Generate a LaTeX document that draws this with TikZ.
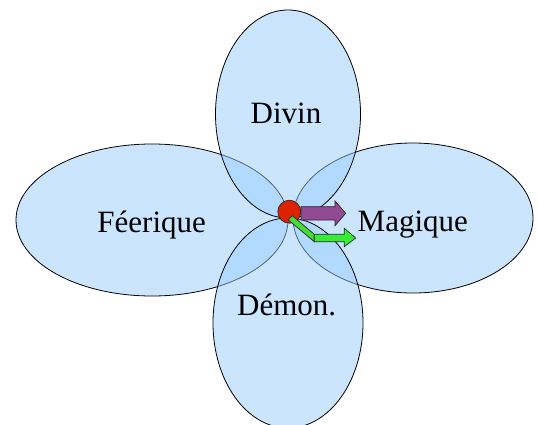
\documentclass[tikz,border=0pt]{standalone}
\usepackage{fontspec}
\setmainfont{Liberation Serif}
\usetikzlibrary{shapes.geometric}
\definecolor{petal}{RGB}{153,204,255}
\definecolor{redc}{RGB}{221,34,0}
\definecolor{purp}{RGB}{147,74,148}
\definecolor{greenA}{RGB}{68,221,51}
\definecolor{greenB}{RGB}{51,238,51}
\tikzset{
  petalbox/.style={ellipse, draw=black, line width=0.8pt, fill=petal, fill opacity=0.5, inner sep=0pt},
  lbl/.style={anchor=base, font=\fontsize{31}{31}\selectfont, text=black, inner sep=0pt},
  arrowshape/.style={draw=black!85, line width=0.7pt, line join=miter}
}
\begin{document}
\begin{tikzpicture}[x=1pt,y=-1pt]
\useasboundingbox (0,0) rectangle (538,425);
% petals
\node[petalbox, minimum width=272pt, minimum height=152pt] (feerique) at (152,220) {};
\node[petalbox, minimum width=240pt, minimum height=150pt] (magique) at (413,218) {};
\node[petalbox, minimum width=150pt, minimum height=210pt] (demon) at (288,323) {};
\node[petalbox, minimum width=145pt, minimum height=208pt] (divin) at (288,114) {};
% labels
\node[lbl] (tdivin) at (286,123.3) {Divin};
\node[lbl] (tfeer) at (151.7,232.7) {Féerique};
\node[lbl] (tmag) at (412.8,231.7) {Magique};
\node[lbl] (tdemon) at (286.7,315) {Démon.};
% centre
\node[circle, draw=black!85, line width=0.7pt, fill=redc, minimum size=23pt, inner sep=0pt] (centre) at (289.3,211.7) {};
% purple arrow
\draw[arrowshape, fill=purp] (301,206.7) -- (335,206.7) -- (335,201) -- (345.7,213.3) -- (335,225.7) -- (335,220) -- (301,220) -- cycle;
% green bent arrow
\draw[arrowshape, fill=greenA] (288.3,220) -- (292.3,215.7) -- (314.3,234.3) -- (314.3,241.7) -- cycle;
\draw[arrowshape, fill=greenB] (314.3,234.3) -- (344.3,234.3) -- (344.3,228.3) -- (355.7,238) -- (344.3,246.7) -- (344.3,241.7) -- (314.3,241.7) -- cycle;
\end{tikzpicture}
\end{document}
